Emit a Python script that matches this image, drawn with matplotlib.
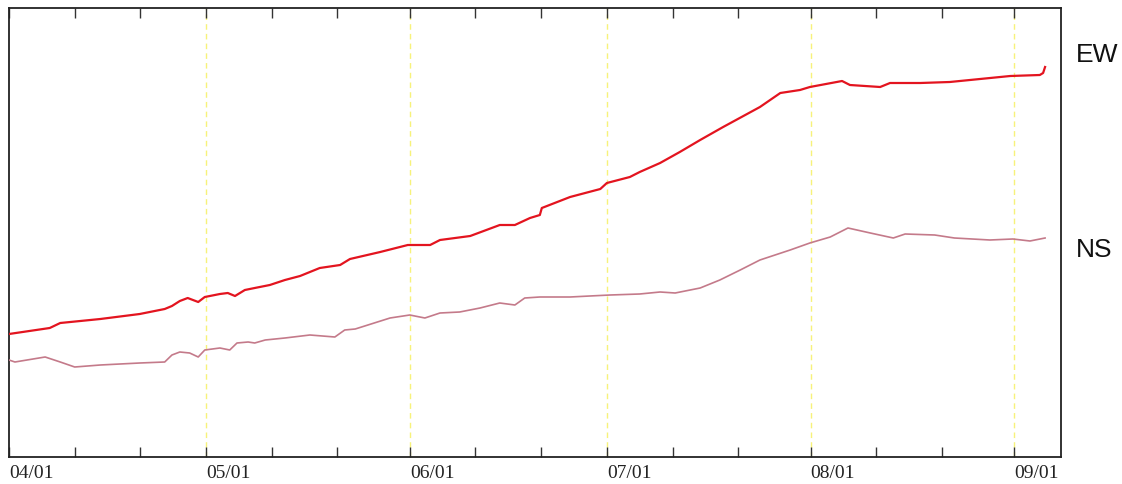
import numpy as np
import matplotlib
matplotlib.use("Agg")
import matplotlib.pyplot as plt
import matplotlib.dates as mdates

# Displacement record, days counted from 04/01
start = np.datetime64("2021-04-01")

ew_days = [0, 6.2, 7.8, 13.9, 19.9, 23.7, 24.8, 26.0, 27.2, 28.8, 29.8, 32.1, 33.3,
           34.4, 35.9, 37.4, 39.7, 42.0, 44.3, 47.3, 50.4, 51.9, 56.5, 60.7, 64.1,
           65.6, 70.2, 74.7, 77.0, 79.3, 80.8, 81.1, 85.4, 90.0, 91.0, 94.5, 96.0,
           99.1, 102.1, 105.2, 108.7, 114.3, 117.4, 120.4, 121.9, 126.8, 128.0,
           132.6, 134.1, 138.7, 143.2, 147.8, 152.4, 156.9, 157.4, 157.7]
ew_vals = [12.3, 12.9, 13.4, 13.8, 14.3, 14.8, 15.1, 15.6, 15.9, 15.5, 16.0, 16.3, 16.4,
           16.1, 16.7, 16.9, 17.2, 17.7, 18.1, 18.9, 19.2, 19.8, 20.5, 21.2, 21.2,
           21.7, 22.1, 23.2, 23.2, 23.9, 24.2, 24.9, 26.0, 26.8, 27.4, 28.0, 28.5,
           29.4, 30.5, 31.7, 33.0, 35.0, 36.4, 36.7, 37.0, 37.6, 37.2,
           37.0, 37.4, 37.4, 37.5, 37.8, 38.1, 38.2, 38.4, 39.0]

ns_days = [0, 0.9, 5.5, 7.8, 10.0, 13.9, 19.9, 23.7, 24.8, 26.0, 27.5, 28.8, 29.8,
           32.1, 33.6, 34.7, 36.4, 37.4, 39.0, 42.0, 45.8, 49.6, 51.1, 52.7, 58.0,
           61.0, 63.3, 65.6, 68.6, 71.7, 74.7, 77.0, 78.5, 80.8, 85.4, 88.4, 91.5,
           96.0, 99.1, 101.4, 105.2, 108.2, 111.3, 114.3, 118.9, 121.9, 125.0,
           127.7, 131.1, 134.6, 136.4, 140.9, 143.9, 149.3, 152.8, 155.4, 157.7]
ns_vals = [9.7, 9.5, 10.0, 9.5, 9.0, 9.2, 9.4, 9.5, 10.2, 10.5, 10.4, 10.0, 10.7,
           10.9, 10.7, 11.4, 11.5, 11.4, 11.7, 11.9, 12.2, 12.0, 12.7, 12.8, 13.9,
           14.2, 13.9, 14.4, 14.5, 14.9, 15.4, 15.2, 15.9, 16.0, 16.0, 16.1, 16.2,
           16.3, 16.5, 16.4, 16.9, 17.7, 18.7, 19.7, 20.7, 21.4, 22.0,
           22.9, 22.4, 21.9, 22.3, 22.2, 21.9, 21.7, 21.8, 21.6, 21.9]

series_labels = ["EW", "NS"]
month_starts = ["2021-05-01", "2021-06-01", "2021-07-01", "2021-08-01", "2021-09-01"]


def to_dates(days):
    secs = (np.asarray(days) * 86400).round().astype("timedelta64[s]")
    return (start + secs).astype("datetime64[s]").astype(object)


fig = plt.figure(figsize=(11.22, 4.84), dpi=100)
ax = fig.add_axes([9 / 1122, 27 / 484, 1052 / 1122, 449 / 484])

for m in month_starts:
    ax.axvline(np.datetime64(m).astype(object), color="#f7f27a", lw=1.0,
               ls=(0, (4, 3)), zorder=1)

ax.plot(to_dates(ew_days), ew_vals, color="#e3141f", lw=1.6, zorder=3)
ax.plot(to_dates(ns_days), ns_vals, color="#c47a8a", lw=1.2, zorder=3)

ax.set_xlim(start.astype(object), (start + np.timedelta64(160 * 24 + 3, "h")).astype(object))
ax.set_ylim(0, 44.9)
ax.set_yticks([])

ax.xaxis.set_major_locator(mdates.MonthLocator())
ax.xaxis.set_major_formatter(mdates.DateFormatter("%m/%d"))
ax.xaxis.set_minor_locator(mdates.DayLocator(bymonthday=[11, 21]))
ax.tick_params(axis="x", which="both", direction="in", length=7.5, width=1.0,
               color="#333333", top=True, bottom=True, pad=6)
for lbl in ax.get_xticklabels():
    lbl.set_horizontalalignment("left")
    lbl.set_fontfamily("Liberation Serif")
    lbl.set_fontsize(14)
    lbl.set_color("#222222")

for s in ax.spines.values():
    s.set_linewidth(1.3)
    s.set_color("#222222")

fig.text(1076 / 1122, (484 - 55) / 484, series_labels[0], fontsize=19,
         family="Liberation Sans", va="center", ha="left", color="#111111")
fig.text(1076 / 1122, (484 - 250) / 484, series_labels[1], fontsize=19,
         family="Liberation Sans", va="center", ha="left", color="#111111")

fig.savefig("out.png", dpi=100, facecolor="white")
